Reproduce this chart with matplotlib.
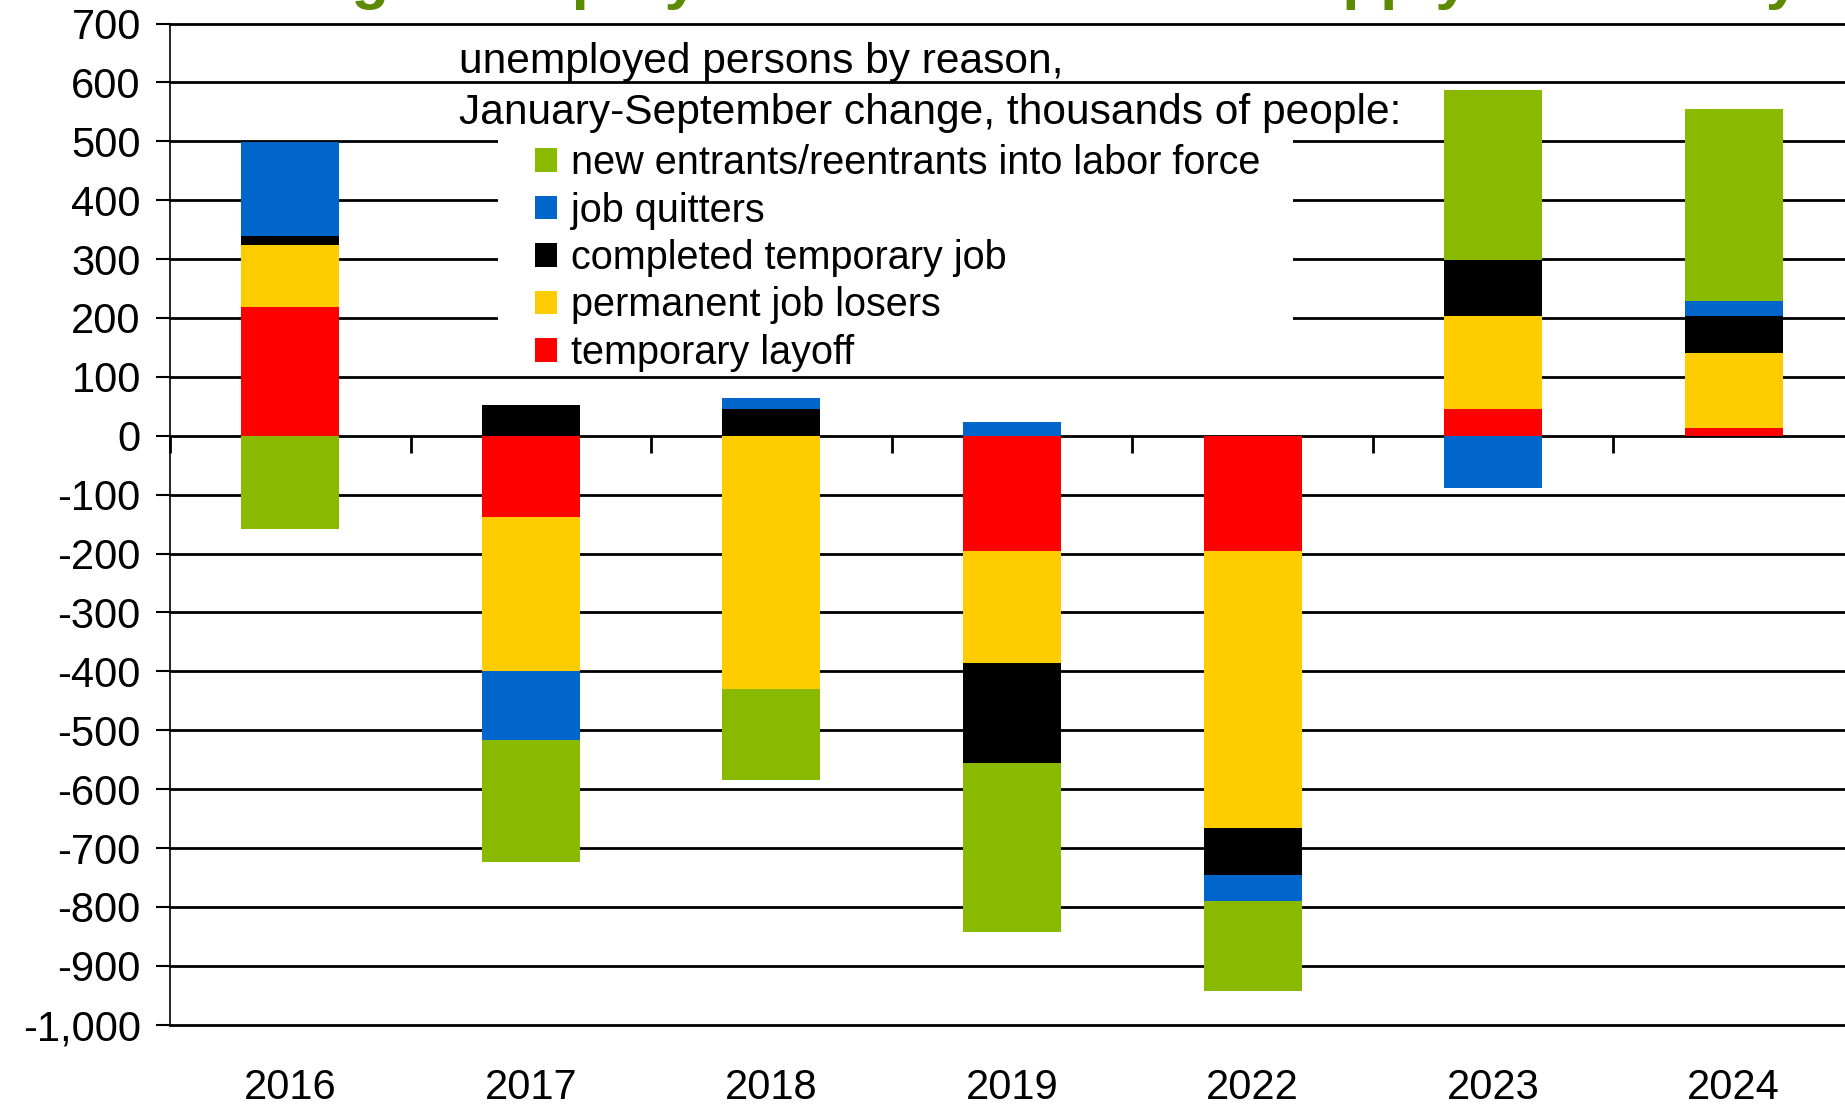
import numpy as np
import matplotlib
matplotlib.use("Agg")
import matplotlib.pyplot as plt
from matplotlib.patches import Patch, Rectangle
from matplotlib.ticker import FuncFormatter, MultipleLocator

plt.rcParams['font.family'] = ['Liberation Sans', 'DejaVu Sans']

# unemployed persons by reason, Jan-Sep change, thousands
years = ['2016', '2017', '2018', '2019', '2022', '2023', '2024']
temp_layoff = [218, -138, 0, -195, -195, 46, 13]
perm_losers = [106, -261, -430, -190, -471, 157, 128]
completed_temp = [15, 52, 45, -171, -80, 95, 62]
job_quitters = [159, -117, 19, 23, -44, -89, 26]
new_entrants = [-158, -207, -155, -287, -152, 289, 325]

series = [
    ('temporary layoff', temp_layoff, '#ff0000'),
    ('permanent job losers', perm_losers, '#ffcc00'),
    ('completed temporary job', completed_temp, '#000000'),
    ('job quitters', job_quitters, '#0066cc'),
    ('new entrants/reentrants into labor force', new_entrants, '#8aba00'),
]

W, H = 1845, 1108
fig = plt.figure(figsize=(W / 100, H / 100), dpi=100)
ax = fig.add_axes([170 / W, 1 - 1024.7 / H, 1684 / W, 1001.2 / H])

x = np.arange(len(years))
pos_base = np.zeros(len(years))
neg_base = np.zeros(len(years))
for name, vals, col in series:
    v = np.array(vals, dtype=float)
    base = np.where(v >= 0, pos_base, neg_base)
    ax.bar(x, v, bottom=base, width=0.407, color=col, zorder=2, linewidth=0)
    pos_base += np.where(v >= 0, v, 0)
    neg_base += np.where(v < 0, v, 0)

ax.set_xlim(-0.5, len(years) - 0.5)
ax.set_ylim(-1000, 700)
ax.yaxis.set_major_locator(MultipleLocator(100))
ax.yaxis.set_major_formatter(FuncFormatter(lambda v, p: f'{v:,.0f}'))
ax.set_axisbelow(True)
ax.yaxis.grid(True, color='black', linewidth=2)
for gl in ax.get_ygridlines():
    gl.set_clip_on(False)
for s in ['top', 'right', 'bottom']:
    ax.spines[s].set_visible(False)
ax.spines['left'].set_linewidth(1.2)
ax.tick_params(axis='y', labelsize=30, length=10, width=1.5, pad=11)
ax.set_xticks(x)
ax.set_xticklabels(years)
ax.tick_params(axis='x', labelsize=30, length=0, pad=31.5)

# category boundary ticks on the zero line
sec = ax.secondary_xaxis(1000 / 1700)
sec.set_xticks(np.arange(len(years) + 1) - 0.5)
sec.xaxis.set_ticks_position('bottom')
sec.tick_params(axis='x', length=12, width=2, labelbottom=False, labeltop=False, direction='out')
for s in sec.spines.values():
    s.set_visible(False)

# white box behind the legend
ax.add_patch(Rectangle((0.1948, 0.652), 0.4721, 0.234, transform=ax.transAxes,
                       facecolor='white', edgecolor='none', zorder=1))

handles = [Patch(facecolor=col, edgecolor='none', label=name) for name, _, col in series[::-1]]
fig.legend(handles=handles, loc='upper left', bbox_to_anchor=(535 / W, 1 - 144 / H),
           frameon=False, fontsize=28.5, borderpad=0, borderaxespad=0,
           handlelength=0.55, handleheight=0.55, handletextpad=0.36, labelspacing=0.24)

fig.text(459 / W, 1 - 62.5 / H, 'unemployed persons by reason,', fontsize=30.6, va='center')
fig.text(459 / W, 1 - 113 / H, 'January-September change, thousands of people:', fontsize=30.6, va='center')

fig.text(200 / W, 1 + 3 / H, 'Rising unemployment reflects labor supply and not by layoffs',
         fontsize=44.6, fontweight='bold', color='#5c8a00', va='baseline')

fig.savefig('out.png', dpi=100)
